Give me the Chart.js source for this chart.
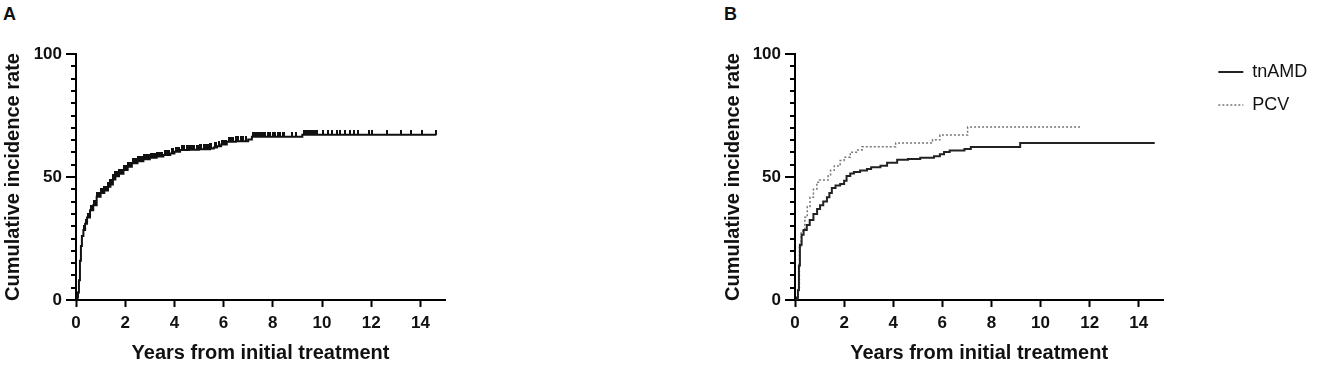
<!DOCTYPE html>
<html>
<head>
<meta charset="utf-8">
<script src="https://cdn.jsdelivr.net/npm/chart.js@4.4.1/dist/chart.umd.min.js"></script>
<style>
  body { margin: 0; background: #fff; width: 1325px; height: 368px; position: relative; overflow: hidden; }
  canvas { position: absolute; top: 0; }
  .tag { position: absolute; top: 4px; font: bold 18px Arial, "Liberation Sans", sans-serif; color: #111; }
</style>
</head>
<body>
<div class="tag" style="left:3px">A</div>
<div class="tag" style="left:724px">B</div>
<canvas id="chartA" width="470" height="368" style="left:0"></canvas>
<canvas id="chartB" width="605" height="368" style="left:720px"></canvas>
<script>
// Panel A: all patients (step points: time in years, cumulative incidence %)
const allTimes = [0, 0.05, 0.08, 0.12, 0.16, 0.2, 0.24, 0.3, 0.37, 0.45, 0.57, 0.7, 0.84, 1.0, 1.15, 1.3, 1.4, 1.5, 1.6, 1.75, 1.93, 2.1, 2.27, 2.5, 2.74, 3.0, 3.28, 3.55, 3.83, 4.0, 4.23, 4.6, 5.0, 5.45, 5.6, 5.73, 5.9, 6.13, 6.5, 7.0, 7.15, 9.2, 14.65];
const allRates = [0, 1, 3, 8, 16, 22, 26, 28.5, 31, 33.5, 36.5, 38.5, 42, 43.5, 44.5, 46, 47, 49, 50.3, 51.3, 52.8, 54.2, 55.6, 56.4, 57.2, 57.8, 58.3, 58.9, 59.6, 60.3, 61, 61.1, 61.3, 61.6, 62, 62.5, 63.2, 64.3, 64.5, 65.2, 66.4, 67.2, 67.2];

// Panel A: censored observations (years)
const censorTimes = [0.32, 0.35, 0.4, 0.42, 0.47, 0.5, 0.55, 0.6, 0.62, 0.66, 0.68, 0.72, 0.75, 0.8, 0.85, 0.88, 0.92, 0.95, 1.0, 1.05, 1.1, 1.15, 1.2, 1.25, 1.3, 1.35, 1.4, 1.45, 1.5, 1.55, 1.6, 1.65, 1.7, 1.75, 1.8, 1.85, 1.9, 1.95, 2.0, 2.05, 2.1, 2.15, 2.2, 2.25, 2.3, 2.35, 2.4, 2.45, 2.5, 2.55, 2.6, 2.65, 2.7, 2.75, 2.8, 2.85, 2.9, 2.95, 3.05, 3.1, 3.15, 3.2, 3.25, 3.3, 3.35, 3.4, 3.45, 3.5, 3.6, 3.65, 3.7, 3.75, 3.8, 3.9, 3.95, 4.05, 4.1, 4.2, 4.3, 4.35, 4.4, 4.5, 4.55, 4.65, 4.7, 4.75, 4.8, 4.9, 4.95, 5.05, 5.1, 5.2, 5.3, 5.35, 5.45, 5.5, 5.65, 5.7, 5.8, 5.95, 6.0, 6.1, 6.2, 6.3, 6.35, 6.4, 6.5, 6.6, 6.7, 6.8, 6.9, 7.2, 7.25, 7.3, 7.4, 7.45, 7.5, 7.6, 7.65, 7.7, 7.8, 7.9, 8.0, 8.05, 8.1, 8.2, 8.3, 8.4, 8.45, 8.8, 8.95, 9.25, 9.3, 9.35, 9.45, 9.5, 9.55, 9.65, 9.7, 9.8, 10.05, 10.25, 10.4, 10.6, 10.75, 10.95, 11.15, 11.3, 11.45, 11.9, 12.05, 12.65, 13.2, 13.6, 14.07, 14.65];

// Panel B: tnAMD and PCV
const tnamdTimes = [0, 0.08, 0.12, 0.16, 0.2, 0.27, 0.35, 0.48, 0.6, 0.75, 0.9, 1.02, 1.15, 1.3, 1.4, 1.5, 1.65, 1.84, 2.0, 2.1, 2.25, 2.4, 2.65, 2.93, 3.1, 3.48, 3.75, 4.16, 4.6, 5.1, 5.66, 5.9, 6.07, 6.3, 6.9, 7.16, 9.17, 14.65];
const tnamdRates = [0, 1, 4, 14, 22.5, 26.5, 28.5, 30.5, 32.5, 35, 37, 38.5, 40, 41.8, 43.5, 45.5, 46.5, 47.2, 48.5, 50.4, 51.4, 52, 52.6, 53.3, 54, 54.6, 55.8, 57, 57.3, 57.8, 58.4, 59.2, 60.2, 60.8, 61.4, 62.2, 63.8, 63.8];
const pcvTimes = [0, 0.12, 0.18, 0.25, 0.4, 0.5, 0.61, 0.75, 0.89, 1.0, 1.35, 1.45, 1.6, 1.84, 2.0, 2.25, 2.5, 2.73, 4.1, 5.6, 5.9, 7.03, 11.67];
const pcvRates = [0, 5, 22, 28, 33.6, 38, 41.8, 45, 47.9, 48.8, 50.5, 52.7, 54.5, 56.7, 58, 60.1, 61, 62.3, 63.8, 65.1, 67.1, 70.3, 70.3];

const xTicks = [0, 2, 4, 6, 8, 10, 12, 14];
const yLabels = [0, 50, 100];

const FONT = 'Arial, "Liberation Sans", sans-serif';
const INK = '#111';

function toPoints(times, rates) {
  return times.map((t, i) => ({ x: t, y: rates[i] }));
}

function rateAt(times, rates, t) {
  let v = rates[0];
  for (let i = 0; i < times.length; i++) {
    if (times[i] <= t) v = rates[i];
  }
  return v;
}

// censor mark: short upward tick, used as a point style
const censorMark = document.createElement('canvas');
censorMark.width = 2;
censorMark.height = 10;
const cm = censorMark.getContext('2d');
cm.fillStyle = INK;
cm.fillRect(0, 0, 2, 5);

// y axis: long ticks at labelled values, short minor ticks every 5
const yTickMarks = {
  id: 'yTickMarks',
  afterDraw(chart) {
    const s = chart.scales.y;
    const ctx = chart.ctx;
    ctx.save();
    ctx.strokeStyle = '#000';
    ctx.lineWidth = 2;
    s.ticks.forEach(t => {
      const py = Math.round(s.getPixelForValue(t.value));
      const len = yLabels.includes(t.value) ? 10 : 5;
      ctx.beginPath();
      ctx.moveTo(s.right - len, py);
      ctx.lineTo(s.right, py);
      ctx.stroke();
    });
    ctx.restore();
  }
};

// let the legend text run to the canvas edge instead of being clipped
const legendRoom = {
  id: 'legendRoom',
  afterLayout(chart) {
    const lg = chart.legend;
    if (lg && lg.options.display) {
      lg.right = chart.width;
      lg.width = lg.right - lg.left;
    }
  }
};

function makeScales(yWidth) {
  return {
    x: {
      type: 'linear',
      min: 0,
      max: 15,
      afterFit: s => { s.height = 68; },
      border: { color: '#000', width: 2 },
      grid: { drawOnChartArea: false, tickLength: 7, tickColor: '#000', tickWidth: 2 },
      ticks: {
        stepSize: 2,
        includeBounds: false,
        autoSkip: false,
        padding: 6,
        color: INK,
        font: { family: FONT, size: 17, weight: 'bold' },
        callback: v => xTicks.includes(v) ? v : ''
      },
      title: {
        display: true,
        text: 'Years from initial treatment',
        color: INK,
        font: { family: FONT, size: 20, weight: 'bold' },
        padding: { top: 0, bottom: 3 }
      }
    },
    y: {
      min: 0,
      max: 100,
      afterFit: s => { s.width = yWidth; },
      border: { color: '#000', width: 2 },
      grid: { drawOnChartArea: false, tickLength: 10, tickColor: 'rgba(0,0,0,0)' },
      ticks: {
        stepSize: 5,
        autoSkip: false,
        padding: 4,
        color: INK,
        font: { family: FONT, size: 17, weight: 'bold' },
        callback: v => yLabels.includes(v) ? v : ''
      },
      title: {
        display: true,
        text: 'Cumulative incidence rate',
        color: INK,
        font: { family: FONT, size: 20, weight: 'bold' },
        padding: { top: 1, bottom: 0 }
      }
    }
  };
}

new Chart(document.getElementById('chartA'), {
  type: 'line',
  data: {
    datasets: [
      {
        label: 'All',
        data: toPoints(allTimes, allRates),
        stepped: true,
        borderColor: INK,
        borderWidth: 2,
        pointRadius: 0,
        fill: false
      },
      {
        label: 'Censored',
        data: censorTimes.map(t => ({ x: t, y: rateAt(allTimes, allRates, t) })),
        showLine: false,
        pointStyle: censorMark,
        pointRadius: 4
      }
    ]
  },
  options: {
    responsive: false,
    animation: false,
    layout: { padding: { left: 0, top: 54, right: 25, bottom: 0 } },
    plugins: { legend: { display: false }, tooltip: { enabled: false } },
    scales: makeScales(76)
  },
  plugins: [yTickMarks]
});

const scalesB = makeScales(75);
// empty spacer boxes to place the legend like the original figure
scalesB.ySpacer = {
  position: 'right',
  display: true,
  afterFit: s => { s.width = 40; },
  border: { display: false },
  grid: { display: false, drawTicks: false },
  ticks: { display: false }
};
scalesB.xSpacer = {
  type: 'linear',
  position: 'top',
  display: true,
  afterFit: s => { s.height = 6; },
  border: { display: false },
  grid: { display: false, drawTicks: false },
  ticks: { display: false }
};

new Chart(document.getElementById('chartB'), {
  type: 'line',
  data: {
    datasets: [
      {
        label: 'tnAMD',
        data: toPoints(tnamdTimes, tnamdRates),
        stepped: true,
        borderColor: '#222',
        backgroundColor: 'rgba(0,0,0,0)',
        borderWidth: 2,
        pointRadius: 0,
        fill: false
      },
      {
        label: 'PCV',
        data: toPoints(pcvTimes, pcvRates),
        stepped: true,
        borderColor: '#777',
        backgroundColor: 'rgba(0,0,0,0)',
        borderWidth: 1.5,
        borderDash: [2, 2],
        pointRadius: 0,
        fill: false
      }
    ]
  },
  options: {
    responsive: false,
    animation: false,
    layout: { padding: { left: 0, top: 48, right: 25, bottom: 0 } },
    plugins: {
      tooltip: { enabled: false },
      legend: {
        position: 'right',
        align: 'start',
        labels: {
          boxWidth: 25,
          boxHeight: 0,
          padding: 15,
          color: INK,
          font: { family: FONT, size: 18 }
        }
      }
    },
    scales: scalesB
  },
  plugins: [yTickMarks, legendRoom]
});
</script>
</body>
</html>
